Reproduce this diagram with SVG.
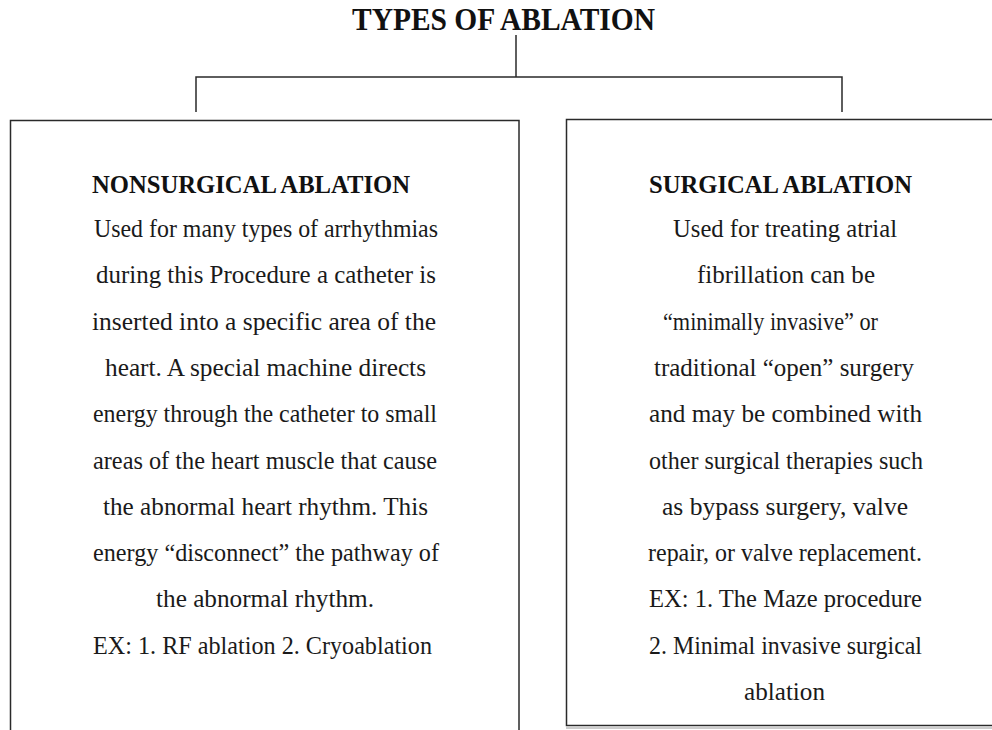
<svg xmlns="http://www.w3.org/2000/svg" width="992" height="730" viewBox="0 0 992 730">
  <style>
    .title { font-family: "Liberation Serif", "Times New Roman", serif; font-weight: bold; font-size: 31px; fill: #111; }
    .head { font-family: "Liberation Serif", "Times New Roman", serif; font-weight: bold; font-size: 25px; fill: #111; }
    .body { font-family: "Liberation Serif", "Times New Roman", serif; font-size: 25px; fill: #1a1a1a; }
    .box { fill: #ffffff; stroke: #2a2a2a; stroke-width: 1.5; }
    .conn { fill: none; stroke: #2a2a2a; stroke-width: 1.5; }
  </style>
  <rect x="0" y="0" width="992" height="730" fill="#ffffff"/>

  <g id="title">
    <text class="title" x="352" y="30" textLength="303" lengthAdjust="spacingAndGlyphs">TYPES OF ABLATION</text>
  </g>

  <g id="connectors">
    <line class="conn" x1="516" y1="35" x2="516" y2="77"/>
    <polyline class="conn" points="196,112 196,77 842,77 842,112"/>
  </g>

  <g id="nonsurgical">
    <rect class="box" x="10.5" y="120.5" width="508.5" height="630"/>
    <text class="head" x="92" y="193" textLength="318" lengthAdjust="spacingAndGlyphs">NONSURGICAL ABLATION</text>
    <text class="body" x="94" y="236.5" textLength="344" lengthAdjust="spacingAndGlyphs">Used for many types of arrhythmias</text>
    <text class="body" x="96" y="283" textLength="340" lengthAdjust="spacingAndGlyphs">during this Procedure a catheter is</text>
    <text class="body" x="92" y="329.5" textLength="344" lengthAdjust="spacingAndGlyphs">inserted into a specific area of the</text>
    <text class="body" x="105" y="376" textLength="321" lengthAdjust="spacingAndGlyphs">heart. A special machine directs</text>
    <text class="body" x="93" y="422" textLength="344" lengthAdjust="spacingAndGlyphs">energy through the catheter to small</text>
    <text class="body" x="93" y="468.5" textLength="344" lengthAdjust="spacingAndGlyphs">areas of the heart muscle that cause</text>
    <text class="body" x="103" y="515" textLength="325" lengthAdjust="spacingAndGlyphs">the abnormal heart rhythm. This</text>
    <text class="body" x="93" y="561" textLength="346" lengthAdjust="spacingAndGlyphs">energy “disconnect” the pathway of</text>
    <text class="body" x="156" y="607" textLength="218" lengthAdjust="spacingAndGlyphs">the abnormal rhythm.</text>
    <text class="body" x="93" y="653.5" textLength="339" lengthAdjust="spacingAndGlyphs">EX: 1. RF ablation 2. Cryoablation</text>
  </g>

  <g id="surgical">
    <rect class="box" x="566.5" y="119.5" width="440" height="606"/>
    <line x1="566" y1="728" x2="992" y2="728" stroke="#9a9a9a" stroke-width="1"/>
    <text class="head" x="649" y="193" textLength="263" lengthAdjust="spacingAndGlyphs">SURGICAL ABLATION</text>
    <text class="body" x="673" y="236.5" textLength="224" lengthAdjust="spacingAndGlyphs">Used for treating atrial</text>
    <text class="body" x="697" y="283" textLength="178" lengthAdjust="spacingAndGlyphs">fibrillation can be</text>
    <text class="body" x="663" y="329.5" textLength="215" lengthAdjust="spacingAndGlyphs">“minimally invasive” or</text>
    <text class="body" x="654" y="376" textLength="260" lengthAdjust="spacingAndGlyphs">traditional “open” surgery</text>
    <text class="body" x="649" y="422" textLength="273" lengthAdjust="spacingAndGlyphs">and may be combined with</text>
    <text class="body" x="649" y="468.5" textLength="274" lengthAdjust="spacingAndGlyphs">other surgical therapies such</text>
    <text class="body" x="662" y="515" textLength="246" lengthAdjust="spacingAndGlyphs">as bypass surgery, valve</text>
    <text class="body" x="648" y="561" textLength="274" lengthAdjust="spacingAndGlyphs">repair, or valve replacement.</text>
    <text class="body" x="649" y="607" textLength="273" lengthAdjust="spacingAndGlyphs">EX: 1. The Maze procedure</text>
    <text class="body" x="649" y="653.5" textLength="273" lengthAdjust="spacingAndGlyphs">2. Minimal invasive surgical</text>
    <text class="body" x="744" y="700" textLength="81" lengthAdjust="spacingAndGlyphs">ablation</text>
  </g>
</svg>
